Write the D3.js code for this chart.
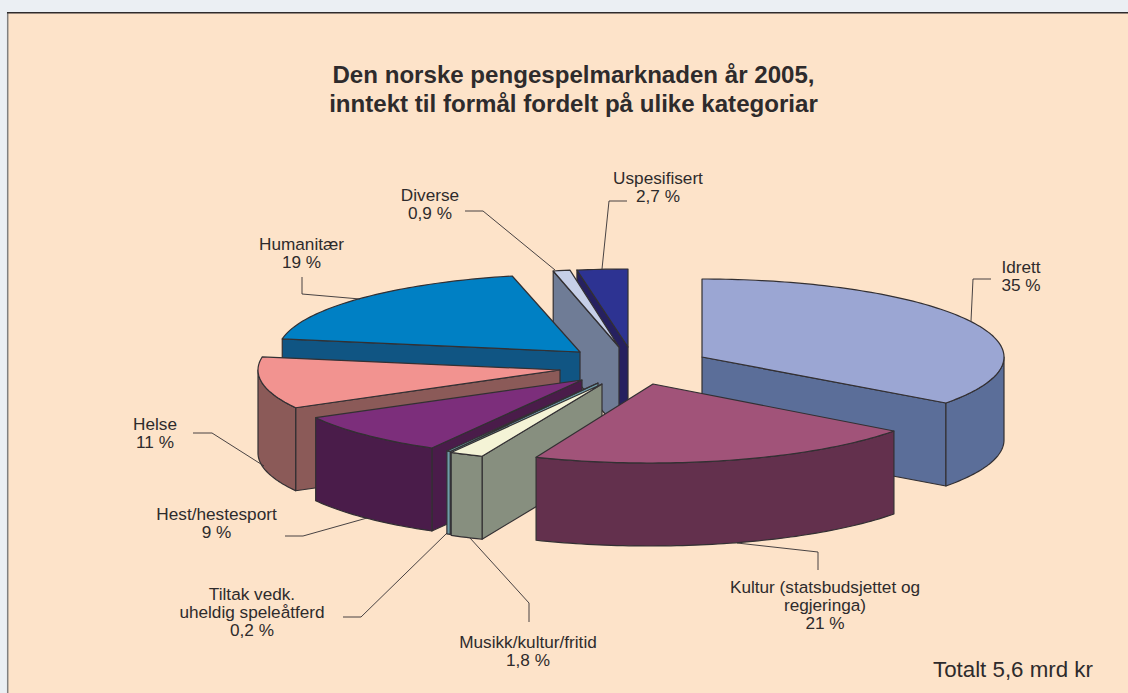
<!DOCTYPE html>
<html lang="nn">
<head>
<meta charset="utf-8">
<script src="https://cdnjs.cloudflare.com/ajax/libs/d3/7.8.5/d3.min.js"></script>
<style>
html,body{margin:0;padding:0;background:#EBEFF3;overflow:hidden}
svg{display:block}
text{font-family:"Liberation Sans",Arial,sans-serif;fill:#2e2b2c}
</style>
</head>
<body>
<svg id="chart" width="1128" height="693"></svg>
<script>
// ---- data (percent shares; labels show the printed rounding) ----
const categories = ["Idrett","Kultur","Musikk/kultur/fritid","Tiltak","Hest/hestesport","Helse","Humanitær","Diverse","Uspesifisert"];
const values = [35.0,21.1,1.8,0.2,8.8,10.7,18.7,0.9,2.7];
const labelLines = [
  ["Idrett","35 %"],
  ["Kultur (statsbudsjettet og","regjeringa)","21 %"],
  ["Musikk/kultur/fritid","1,8 %"],
  ["Tiltak vedk.","uheldig speleåtferd","0,2 %"],
  ["Hest/hestesport","9 %"],
  ["Helse","11 %"],
  ["Humanitær","19 %"],
  ["Diverse","0,9 %"],
  ["Uspesifisert","2,7 %"]
];
const titleLines = ["Den norske pengespelmarknaden år 2005,","inntekt til formål fordelt på ulike kategoriar"];
const totalNote = "Totalt 5,6 mrd kr";

// ---- styles ----
const topColors  = ["#9BA6D3","#A15379","#F4F3D6","#6E9CA8","#7C2E7B","#F29390","#0080C4","#C6CFE8","#2D3392"];
const sideColors = ["#5B6E99","#63304D","#878F7F","#6E9CA8","#4A1C4A","#8B5A58","#105583","#6F7C96","#26205F"];
const strokeColor = "#333033";

// ---- layout of the exploded, tilted pie ----
const rx = 302, ry = 78, depth = 83;
const arcCentres = [[702,357],[650,385],[596,384],[595,383],[580,380],[560,370],[580,352],[621,347],[628,347]];
const apexShift  = [[0,0],[3,-1],[6,0],[3,0],[2,0],[0,0],[0,0],[-2,0],[0,0]];
const paintOrder = [8,7,6,5,4,0,3,2,1];
const labelAnchors = [[1021,272.5],[825,593],[528,647.5],[252,600],[216.5,520],[155,430],[301.5,250],[430,201],[658,184]];
const labelLineHeight = 18;
const leaders = [
  [[971,321],[973,279],[991,279]],
  [[737,543],[818,552],[818,570]],
  [[470,538],[529,603],[529,622]],
  [[447,533],[361,617],[343,617]],
  [[367,518],[303,536],[285,536]],
  [[264,466],[212,433],[193,433]],
  [[360,299],[302,294],[302,277]],
  [[555,270],[483,211],[465,211]],
  [[602,269],[609,201],[627,201]]
];

const svg = d3.select("#chart");
svg.append("rect").attr("x",7).attr("y",12).attr("width",1121).attr("height",681).attr("fill","#FDE3C9");
svg.append("line").attr("x1",7.7).attr("x2",7.7).attr("y1",12).attr("y2",693).attr("stroke","#808080").attr("stroke-width",1.5);
svg.append("line").attr("x1",7).attr("x2",1128).attr("y1",12.7).attr("y2",12.7).attr("stroke","#2e2b2c").attr("stroke-width",1.5);

const pie = d3.pie().sort(null).startAngle(0).endAngle(2*Math.PI);
const arcs = pie(values);
const line = d3.line();
const sliceG = svg.append("g").attr("stroke",strokeColor).attr("stroke-width",1.2).attr("stroke-linejoin","round");

function rimPoint(i,t){
  const c = arcCentres[i];
  return [c[0]+rx*Math.sin(t), c[1]-ry*Math.cos(t)];
}
function rim(i,a,b){
  const n = Math.max(2,Math.ceil((b-a)/0.02));
  return d3.range(n+1).map(k=>rimPoint(i,a+(b-a)*k/n));
}
const down = p => [p[0],p[1]+depth];
function face(points,fill){
  sliceG.append("path").attr("d",line(points)+"Z").attr("fill",fill);
}

paintOrder.forEach(i=>{
  const a = arcs[i].startAngle, b = arcs[i].endAngle;
  const c = arcCentres[i];
  const apex = [c[0]+apexShift[i][0], c[1]+apexShift[i][1]];
  const mid = rimPoint(i,(a+b)/2);
  // radial walls that face the viewer: wedge interior lies above the edge
  [a,b].forEach(t=>{
    const q = rimPoint(i,t);
    const dx = q[0]-apex[0];
    if(Math.abs(dx)<1) return;
    const yOnEdge = apex[1]+(mid[0]-apex[0])*(q[1]-apex[1])/dx;
    if(mid[1]<yOnEdge) face([apex,q,down(q),down(apex)],sideColors[i]);
  });
  // rim wall on the front half of the ellipse
  const from = Math.max(a,Math.PI/2), to = Math.min(b,1.5*Math.PI);
  if(to>from){
    const r = rim(i,from,to);
    face(r.concat(r.map(down).reverse()),sideColors[i]);
  }
  // top
  face([apex].concat(rim(i,a,b)),topColors[i]);
});

// leader lines
svg.append("g").attr("fill","none").attr("stroke",strokeColor).attr("stroke-width",0.9)
  .selectAll("path").data(leaders).join("path").attr("d",d=>line(d));

// labels
const labelG = svg.append("g").attr("font-size",17.2).attr("text-anchor","middle");
categories.forEach((name,i)=>{
  labelLines[i].forEach((t,k)=>{
    labelG.append("text").attr("x",labelAnchors[i][0]).attr("y",labelAnchors[i][1]+k*labelLineHeight).text(t);
  });
});

// title and note
titleLines.forEach((t,k)=>{
  svg.append("text").attr("x",573.5).attr("y",83+k*29).attr("text-anchor","middle")
    .attr("font-size",24.1).attr("font-weight","bold").text(t);
});
svg.append("text").attr("x",933).attr("y",677).attr("font-size",22.3).text(totalNote);
</script>
</body>
</html>
